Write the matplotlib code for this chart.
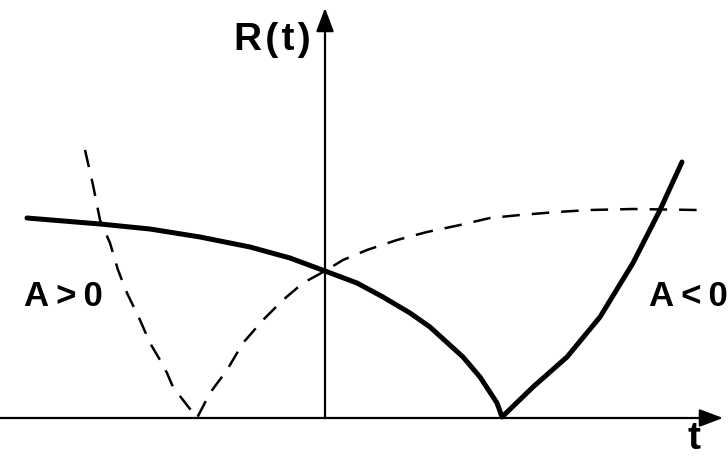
import matplotlib
matplotlib.use("Agg")
import matplotlib.pyplot as plt

# Solid curve R(t): falls to zero, then rises steeply
t_solid = [-2.98, -2.25, -1.75, -1.25, -0.75, -0.35, 0.0, 0.32, 0.58, 0.85, 1.05, 1.38, 1.55, 1.72, 1.77,
           2.08, 2.42, 2.75, 3.08, 3.35, 3.57]
r_solid = [2.00, 1.94, 1.89, 1.81, 1.71, 1.60, 1.47, 1.35, 1.21, 1.05, 0.91, 0.61, 0.41, 0.15, 0.01,
           0.31, 0.61, 1.01, 1.55, 2.08, 2.56]

# Dashed curve R(t): steep descent to zero, then saturating rise
t_dashed = [-2.40, -2.32, -2.25, -2.15, -2.07, -1.98, -1.85, -1.75, -1.65, -1.58, -1.52, -1.42, -1.28,
            -1.15, -0.98, -0.82, -0.62, -0.42, -0.22, 0.0, 0.18, 0.42, 0.72, 1.02, 1.35, 1.65, 1.95,
            2.32, 2.65, 3.08, 3.72]
r_dashed = [2.68, 2.33, 1.98, 1.75, 1.48, 1.25, 0.98, 0.75, 0.58, 0.45, 0.31, 0.18, 0.00,
            0.25, 0.48, 0.75, 0.98, 1.18, 1.35, 1.47, 1.58, 1.68, 1.78, 1.86, 1.93, 2.00, 2.03,
            2.06, 2.08, 2.09, 2.08]

# Axis extents
t_axis = [-3.25, 3.98]
r_axis = [0.0, 4.10]

label_text = ["R\u200a(\u200at\u200a)", "A\u2009>\u20090", "A\u2009<\u20090", "t"]
label_pos = [(-0.53, 3.78), (-2.62, 1.21), (3.24, 1.21), (3.69, -0.21)]
label_ha = ["center", "center", "left", "center"]
label_size = [28, 25, 25, 28]

fig = plt.figure(figsize=(7.28, 4.57), dpi=100)
ax = fig.add_axes([0, 0, 1, 1])
ax.set_xlim(-3.25, 4.03)
ax.set_ylim(-0.39, 4.18)
ax.axis("off")

arrow_kw = dict(arrowstyle="-|>,head_length=0.45,head_width=0.17", mutation_scale=32,
                lw=1.6, color="black", shrinkA=0, shrinkB=0)
ax.annotate("", xy=(t_axis[1], 0), xytext=(t_axis[0], 0), arrowprops=arrow_kw)
ax.annotate("", xy=(0, r_axis[1]), xytext=(0, r_axis[0]), arrowprops=arrow_kw)

ax.plot(t_dashed, r_dashed, color="black", lw=1.8, linestyle=(0, (7.0, 4.8)),
        solid_joinstyle="round", dash_capstyle="butt")
ax.plot(t_solid, r_solid, color="black", lw=3.6, solid_joinstyle="round",
        solid_capstyle="round")

font = dict(family=["Liberation Sans", "DejaVu Sans"], weight="bold", color="black")
for txt, (x, y), ha, fs in zip(label_text, label_pos, label_ha, label_size):
    ax.text(x, y, txt, ha=ha, va="center", fontsize=fs, **font)

fig.savefig("out.png", dpi=100)
